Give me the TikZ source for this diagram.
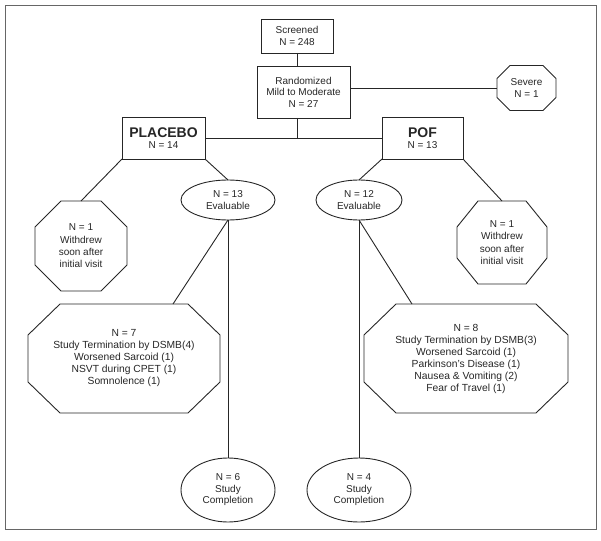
\documentclass[tikz,border=0pt]{standalone}
\usepackage{fontspec}
\setmainfont{Liberation Sans}
\usetikzlibrary{shapes.geometric}

% octagon round a node: node, horizontal cut, vertical cut
\newcommand{\drawocta}[3]{%
  \draw ([xshift=#2]#1.north west) -- ([xshift=-#2]#1.north east)
    -- ([yshift=-#3]#1.north east) -- ([yshift=#3]#1.south east)
    -- ([xshift=-#2]#1.south east) -- ([xshift=#2]#1.south west)
    -- ([yshift=#3]#1.south west) -- ([yshift=-#3]#1.north west) -- cycle;}

\begin{document}
\begin{tikzpicture}[x=1pt,y=-1pt,color=black!85,line width=0.9pt]
\tikzstyle{every node}=[font=\fontsize{10}{11.5}\selectfont, align=center]
\tikzstyle{box}=[draw, inner sep=0, outer sep=0]
\tikzstyle{oval}=[draw, ellipse, inner sep=0, outer sep=0]
\tikzstyle{octo}=[inner sep=0, outer sep=0]

\useasboundingbox (0,0) rectangle (601,540);

% frame round the chart
\draw [black!60, line width=0.8pt] (5,5) rectangle (596,529);

% top of the chart
\node [box, minimum width=72pt, minimum height=34pt] (scr) at (297,36) {Screened\\N = 248};
\node [box, minimum width=93pt, minimum height=52pt] (rand) at (303.5,92) {Randomized\\Mild to Moderate\\N = 27};
\node [octo, minimum width=59pt, minimum height=45pt] (sev) at (526.5,88) {Severe\\N = 1};
\drawocta{sev}{13pt}{13pt}

% the two arms
\node [box, minimum width=83pt, minimum height=42pt] (plac) at (163.5,138)
  {{\fontsize{14}{14}\selectfont\bfseries PLACEBO}\\N = 14};
\node [box, minimum width=81pt, minimum height=42pt] (pof) at (422.5,138)
  {{\fontsize{14}{14}\selectfont\bfseries POF}\\N = 13};

% withdrawn and evaluable
\node [octo, minimum width=92pt, minimum height=90pt, font=\fontsize{10}{12.3}\selectfont] (wdL) at (81,246)
  {N = 1\\Withdrew\\soon after\\initial visit};
\drawocta{wdL}{26pt}{26pt}
\node [octo, minimum width=90pt, minimum height=83pt, font=\fontsize{10}{12.3}\selectfont] (wdR) at (502,242.5)
  {N = 1\\Withdrew\\soon after\\initial visit};
\drawocta{wdR}{21pt}{26pt}
\node [oval, minimum width=94pt, minimum height=40pt] (evL) at (228,200) {N = 13\\Evaluable};
\node [oval, minimum width=86pt, minimum height=40pt] (evR) at (359,200) {N = 12\\Evaluable};

% stopped early
\node [octo, minimum width=192pt, minimum height=109pt, font=\fontsize{10.3}{12}\selectfont] (octL) at (124,358.5)
  {N = 7\\Study Termination by DSMB(4)\\Worsened Sarcoid (1)\\NSVT during CPET (1)\\Somnolence (1)};
\drawocta{octL}{32pt}{31pt}
\node [octo, minimum width=204pt, minimum height=109pt, font=\fontsize{10.3}{12}\selectfont] (octR) at (466,358.5)
  {N = 8\\Study Termination by DSMB(3)\\Worsened Sarcoid (1)\\Parkinson's Disease (1)\\Nausea \& Vomiting (2)\\Fear of Travel (1)};
\drawocta{octR}{32pt}{31pt}

% completed
\node [oval, minimum width=94pt, minimum height=64pt] (compL) at (228,490) {N = 6\\Study\\Completion};
\node [oval, minimum width=104pt, minimum height=64pt] (compR) at (359,490) {N = 4\\Study\\Completion};

% connectors
\coordinate (split) at (scr.south |- plac.east);
\draw (scr.south) -- (scr.south |- rand.north);
\draw (scr.south |- rand.south) -- (split);
\draw (plac.east) -- (pof.west);
\draw (rand.east |- sev.west) -- (sev.west);
\draw (plac.south west) -- (wdL.north);
\draw (plac.south east) -- (evL.north);
\draw (pof.south west) -- (evR.north);
\draw (pof.south east) -- (wdR.north);
\draw (evL.south) -- ([xshift=49pt]octL.north);
\draw (evR.south) -- ([xshift=-54pt]octR.north);
\draw (evL.south) -- (compL.north);
\draw (evR.south) -- (compR.north);

\end{tikzpicture}
\end{document}
